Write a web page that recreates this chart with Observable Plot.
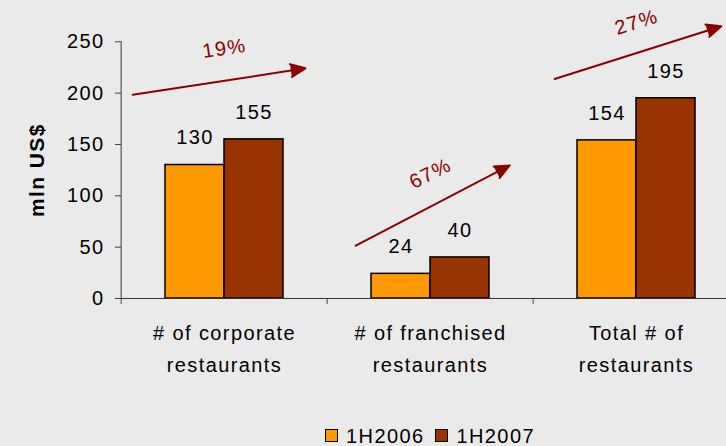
<!DOCTYPE html>
<html><head><meta charset="utf-8">
<script src="https://cdn.jsdelivr.net/npm/d3@7"></script>
<script src="https://cdn.jsdelivr.net/npm/@observablehq/plot@0.6"></script>
<style>
html,body{margin:0;padding:0;background:#eaeaea;overflow:hidden;width:726px;height:446px;position:relative;}
#chart svg{display:block;max-width:none !important;}
#legend{position:absolute;left:120px;width:620px;top:423px;height:24px;line-height:24px;text-align:center;
  font-family:"Liberation Sans",Arial,sans-serif;font-size:20px;letter-spacing:1.4px;color:#000;white-space:nowrap;}
#legend .item{display:inline-flex;align-items:center;margin:0 2px;}
#legend .sw{display:inline-block;width:11px;height:11px;border:1.5px solid #000;margin-right:8px;}
</style></head><body>
<div id="chart"></div>
<div id="legend"></div>
<script>
const categories = ["# of corporate\nrestaurants", "# of franchised\nrestaurants", "Total # of\nrestaurants"];
const series = ["1H2006", "1H2007"];
const values1H2006 = [130, 24, 154];
const values1H2007 = [155, 40, 195];
const seriesColors = ["#FF9900", "#993300"];
const yTicks = [0, 50, 100, 150, 200, 250];
const yLabel = "mln US$";
const growthLabels = ["19%", "67%", "27%"];
const growthLabelY = [243.5, 121.7, 269];
const arrowFrom = [207.7, 74.4, 229.9];
const arrowTo = [216.5, 104.4, 248.1];

const rows = [];
categories.forEach((c, i) => {
  rows.push({cat: c, series: series[0], value: values1H2006[i]});
  rows.push({cat: c, series: series[1], value: values1H2007[i]});
});

const W = 740, H = 400, ML = 120, MR = 0, MT = 41.3, MB = 102;
const bandW = (W - ML - MR) / categories.length;
const red = "#8B0000";
const arrowLayout = [
  {insetStart: -63, insetEnd: -52, angle: -8.5},
  {insetStart: -51, insetEnd: -56, angle: -27},
  {insetStart: -55, insetEnd: -58, angle: -17}
];

const arrows = categories.map((c, i) => Plot.arrow([i], {
  fx: () => c,
  x1: () => series[0], x2: () => series[1],
  y1: () => arrowFrom[i], y2: () => arrowTo[i],
  stroke: red, fill: red, strokeWidth: 2,
  headLength: 12, headAngle: 48,
  insetStart: arrowLayout[i].insetStart, insetEnd: arrowLayout[i].insetEnd
}));

const chart = Plot.plot({
  width: W, height: H,
  marginLeft: ML, marginRight: MR, marginTop: MT, marginBottom: MB,
  style: {fontFamily: "'Liberation Sans', Arial, sans-serif", fontSize: "20px", background: "transparent", color: "#000", letterSpacing: "1.4px", overflow: "visible", maxWidth: "none"},
  fx: {domain: categories, padding: 0, label: null, axis: null},
  x: {domain: series, paddingInner: 0, paddingOuter: 0.722, axis: null},
  y: {domain: [0, 250], axis: null},
  color: {domain: series, range: seriesColors},
  marks: [
    Plot.barY(rows, {fx: "cat", x: "series", y: "value", fill: "series", stroke: "#000", strokeWidth: 1.5, inset: 0}),
    Plot.text(rows, {fx: "cat", x: "series", y: "value", text: d => String(d.value), dy: -27, fill: "#000"}),
    Plot.ruleY([0], {stroke: "#333", strokeWidth: 1.2}),
    Plot.ruleX([categories[0]], {fx: d => d, x: null, dx: -bandW / 2, stroke: "#555", strokeWidth: 1.2}),
    Plot.axisY(yTicks, {tickSize: 6, tickPadding: 11, label: null, stroke: "#444"}),
    Plot.axisFx({anchor: "bottom", tickSize: 6, tickFormat: () => "", dx: -bandW / 2, label: null, stroke: "#444"}),
    Plot.text(categories, {fx: d => d, text: d => d, frameAnchor: "bottom", lineAnchor: "top", dy: 19, lineHeight: 1.6, fill: "#000"}),
    Plot.text([yLabel], {fx: () => categories[0], text: d => d, frameAnchor: "left", textAnchor: "middle", dx: -84, rotate: -90, fontWeight: "bold", fontSize: 21, fill: "#000"}),
    ...arrows,
    Plot.text(growthLabels, {fx: (d, i) => categories[i], y: (d, i) => growthLabelY[i], text: d => d, rotate: (d, i) => arrowLayout[i].angle, fill: red})
  ]
});
document.getElementById("chart").appendChild(chart);

const legend = document.getElementById("legend");
series.forEach((s, i) => {
  const item = document.createElement("span");
  item.className = "item";
  const sw = document.createElement("span");
  sw.className = "sw";
  sw.style.background = seriesColors[i];
  item.appendChild(sw);
  item.appendChild(document.createTextNode(s));
  legend.appendChild(item);
  if (i < series.length - 1) legend.appendChild(document.createTextNode(" "));
});
</script>
</body></html>
